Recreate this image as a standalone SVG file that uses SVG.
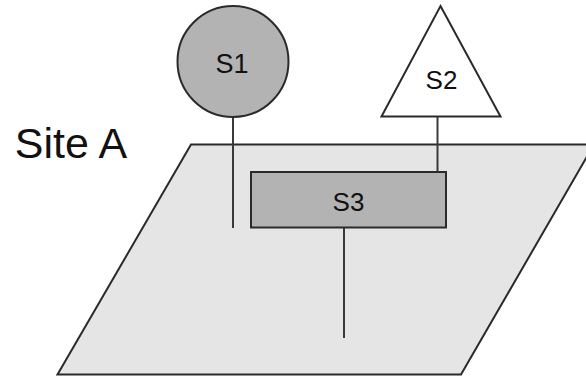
<svg xmlns="http://www.w3.org/2000/svg" width="586" height="378" viewBox="0 0 586 378">
<style>
.shape{stroke:#2a2a2a;stroke-width:2}
.dark{fill:#b3b3b3}
.light{fill:#ffffff}
.plane{fill:#e5e5e5;stroke:#2a2a2a;stroke-width:2}
.lbl{font-family:"Liberation Sans",Arial,sans-serif;fill:#111;text-anchor:middle}
.conn{stroke:#3a3a3a;stroke-width:2;fill:none}
</style>
<rect width="586" height="378" fill="#ffffff"/>
<g id="siteA">
<polygon class="plane" points="191,144.5 594,144.5 461,374.5 57.5,374.5"/>
<text class="lbl" x="71" y="158" font-size="43">Site A</text>
</g>
<g id="connectors">
<line class="conn" x1="233" y1="117" x2="233" y2="228"/>
<line class="conn" x1="437.5" y1="117" x2="437.5" y2="172"/>
<line class="conn" x1="344" y1="228" x2="344" y2="338"/>
</g>
<g id="S1">
<circle class="shape dark" cx="233" cy="61.5" r="55.5"/>
<text class="lbl" x="232" y="73" font-size="27">S1</text>
</g>
<g id="S2">
<polygon class="shape light" points="440.5,6 500.5,116.5 381.5,116.5"/>
<text class="lbl" x="441.5" y="88.5" font-size="26">S2</text>
</g>
<g id="S3">
<rect class="shape dark" x="251" y="172" width="195" height="55.5"/>
<text class="lbl" x="348.5" y="211" font-size="26">S3</text>
</g>
</svg>
